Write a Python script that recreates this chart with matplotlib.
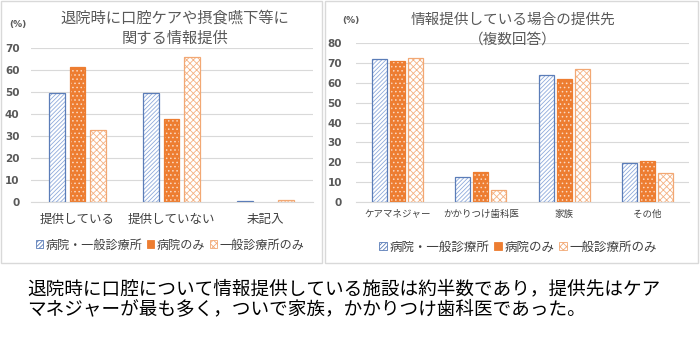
import numpy as np
import matplotlib
matplotlib.use("Agg")
import matplotlib.pyplot as plt
from matplotlib.patches import Rectangle, Patch

plt.rcParams["font.family"] = ["Noto Sans CJK JP", "DejaVu Sans"]
plt.rcParams["hatch.linewidth"] = 0.6

# Data

cats_l = ["提供している", "提供していない", "未記入"]
both_l = [49.6, 49.6, 0.5]
hosp_l = [61.6, 38.0, 0]
clinic_l = [33.0, 66.0, 1.0]

cats_r = ["ケアマネジャー", "かかりつけ歯科医", "家族", "その他"]
both_r = [72.0, 12.8, 63.8, 19.5]
hosp_r = [71.3, 15.3, 62.2, 20.7]
clinic_r = [72.8, 5.8, 67.2, 14.5]

series_names = ["病院・一般診療所", "病院のみ", "一般診療所のみ"]
ticks_l = [0, 10, 20, 30, 40, 50, 60, 70]
ticks_r = [0, 10, 20, 30, 40, 50, 60, 70, 80]

title_l = ["退院時に口腔ケアや摂食嚥下等に", "関する情報提供"]
title_r = ["情報提供している場合の提供先", "（複数回答）"]
note = ["退院時に口腔について情報提供している施設は約半数であり，提供先はケア",
        "マネジャーが最も多く，ついで家族，かかりつけ歯科医であった。"]

# Styles: (face, hatch colour, hatch, edge)
styles = [("white", "#8FAADC", "////////", "#5B7DB8"),
          ("#ED7D31", "#FBD9C2", "....", "#ED7D31"),
          ("white", "#F4B183", "xxxxx", "#F2A874")]

grid_col = "#D9D9D9"
txt_col = "#595959"

fig = plt.figure(figsize=(7.0, 3.44), dpi=100)

# panel frames
fig.add_artist(Rectangle((1/700, 1 - 263/344), 321/700, 262/344, transform=fig.transFigure,
                         fill=False, edgecolor=grid_col, lw=1))
fig.add_artist(Rectangle((325/700, 1 - 263/344), 373/700, 262/344, transform=fig.transFigure,
                         fill=False, edgecolor=grid_col, lw=1))


def draw_panel(ax, cats, vals, ticks, step, width, cat_fs, ypad, xpad):
    x = np.arange(len(cats))
    for i, (v, st) in enumerate(zip(vals, styles)):
        face, hcol, hatch, edge = st
        pos = x + (i - 1) * step
        ax.bar(pos, v, width, color=face, edgecolor=hcol, hatch=hatch, linewidth=0, zorder=2)
        lw = [0.9 if vv > 0 else 0 for vv in v]
        ax.bar(pos, v, width, fill=False, edgecolor=edge, linewidth=lw, zorder=3)
    ax.set_xlim(-0.5, len(cats) - 0.5)
    ax.set_ylim(0, ticks[-1])
    ax.set_yticks(ticks)
    ax.set_xticks(x)
    ax.set_xticklabels(cats, fontsize=cat_fs, color="#404040")
    ax.yaxis.grid(True, color=grid_col, lw=0.8, zorder=0)
    ax.set_axisbelow(True)
    for s in ["top", "right", "left"]:
        ax.spines[s].set_visible(False)
    ax.spines["bottom"].set_color(grid_col)
    ax.tick_params(axis="both", length=0)
    ax.tick_params(axis="x", pad=xpad)
    ax.tick_params(axis="y", pad=ypad, labelsize=7.5, labelcolor=txt_col)
    for t in ax.get_yticklabels():
        t.set_fontweight("bold")
        t.set_family("DejaVu Sans")


ax1 = fig.add_axes([30.5/700, 1 - 202.3/344, 282/700, 154/344])
draw_panel(ax1, cats_l, [both_l, hosp_l, clinic_l], ticks_l, 0.223, 0.17, 9, 8, 7.5)

ax2 = fig.add_axes([356/700, 1 - 202/344, 333/700, 158.7/344])
draw_panel(ax2, cats_r, [both_r, hosp_r, clinic_r], ticks_r, 0.217, 0.18, 6.8, 10, 5.5)

# titles
fig.text(175/700, 1 - 18/344, title_l[0], ha="center", va="center", fontsize=11, color=txt_col)
fig.text(175/700, 1 - 38/344, title_l[1], ha="center", va="center", fontsize=11, color=txt_col)
fig.text(513/700, 1 - 20/344, title_r[0], ha="center", va="center", fontsize=10.5, color=txt_col)
fig.text(513/700, 1 - 40/344, title_r[1], ha="center", va="center", fontsize=10.5, color=txt_col)

fig.text(18/700, 1 - 25/344, "(%)", ha="center", va="center", fontsize=6.5,
         fontweight="bold", color=txt_col, family="DejaVu Sans")
fig.text(351/700, 1 - 20/344, "(%)", ha="center", va="center", fontsize=6.5,
         fontweight="bold", color=txt_col, family="DejaVu Sans")

# legends
handles = [Patch(facecolor=face, edgecolor=edge, hatch=hatch, lw=0.6)
           for face, hcol, hatch, edge in styles]
handles[1] = Patch(facecolor="#ED7D31", edgecolor="#ED7D31", lw=0.6)
for ax, cx, cy, fs in [(ax1, 170, 245, 8.7), (ax2, 518, 247, 9)]:
    ax.legend(handles, series_names, loc="center", bbox_to_anchor=(cx/700, 1 - cy/344),
              bbox_transform=fig.transFigure, ncol=3, frameon=False, fontsize=fs,
              handlelength=0.6, handleheight=0.6, handletextpad=0.2, columnspacing=0.4,
              labelcolor="#404040", borderpad=0)

# note
fig.text(27/700, 1 - 289/344, note[0], ha="left", va="center", fontsize=13.4, color="black")
fig.text(27/700, 1 - 309/344, note[1], ha="left", va="center", fontsize=13.4, color="black")

fig.savefig("out.png", dpi=100)
